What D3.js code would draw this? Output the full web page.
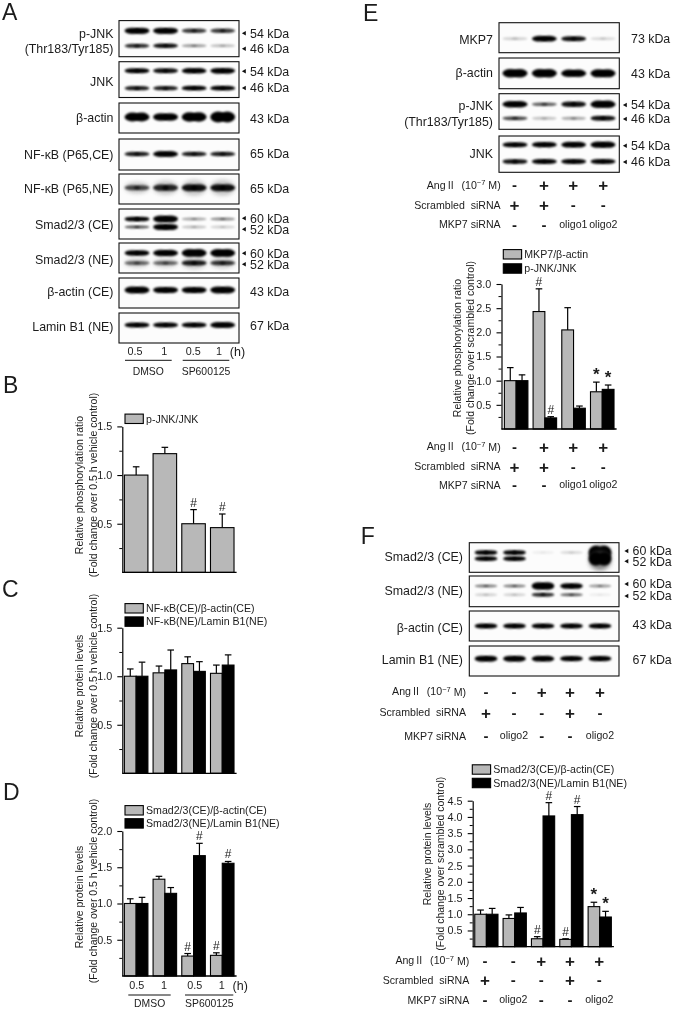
<!DOCTYPE html>
<html>
<head>
<meta charset="utf-8">
<script src="https://cdn.jsdelivr.net/npm/d3@7"></script>
<style>
  html, body { margin: 0; padding: 0; background: #fff; }
  svg { display: block; filter: blur(0.25px); }
  text { font-family: "Liberation Sans", Arial, sans-serif; fill: #1c1c1c; white-space: pre; }
</style>
</head>
<body>
<div id="figure"></div>
<script>
// blot band strengths, read by eye (1 = a full dark band)
const lanesA = ["DMSO 0.5", "DMSO 1", "SP 0.5", "SP 1"];
const aPjnk54 = [1, 1, 0.7, 0.7];
const aPjnk46 = [0.75, 0.85, 0.35, 0.22];
const aJnk54 = [0.9, 0.85, 0.95, 1];
const aJnk46 = [0.8, 0.8, 0.9, 0.9];
const aActin = [1.3, 1.1, 1.4, 1.6];
const aP65Ce = [0.8, 1.05, 0.8, 0.8];
const aP65Ne = [0.6, 0.75, 0.85, 0.85];
const aSmadCe60 = [0.9, 1.3, 0.3, 0.4];
const aSmadCe52 = [0.6, 1.2, 0.2, 0.15];
const aSmadNe60 = [0.95, 1.05, 1.35, 1.35];
const aSmadNe52 = [0.5, 0.5, 0.8, 0.7];
const aActinCe = [1.15, 1, 1, 1.1];
const aLamin = [0.9, 0.9, 0.9, 1.05];

const lanesE = ["1", "2", "3", "4"];
const eMkp7 = [0.15, 1, 0.85, 0.12];
const eActin = [1.25, 1.25, 1.1, 1.2];
const ePjnk54 = [1, 0.55, 0.85, 1.15];
const ePjnk46 = [0.65, 0.2, 0.3, 0.85];
const eJnk54 = [0.9, 0.95, 1, 1.1];
const eJnk46 = [0.85, 0.9, 0.9, 0.9];

const lanesF = ["1", "2", "3", "4", "5"];
const fSmadCe60 = [0.9, 0.9, 0.05, 0.12, 2.6];
const fSmadCe52 = [0.9, 0.9, 0, 0, 2.6];
const fSmadNe60 = [0.45, 0.45, 1.3, 1, 0.35];
const fSmadNe52 = [0.15, 0.15, 0.75, 0.55, 0.05];
const fActin = [0.95, 0.95, 0.95, 1, 1];
const fLamin = [1.1, 1.1, 1.05, 0.95, 0.95];

// bar values and upper error ends
const bLegend = ["p-JNK/JNK"];
const bVals = [1.0, 1.22, 0.5, 0.46];
const bErrs = [1.085, 1.285, 0.645, 0.6];
const bSig = ["", "", "#", "#"];

const cLegend = ["NF-κB(CE)/β-actin(CE)", "NF-κB(NE)/Lamin B1(NE)"];
const cGray = [1.0, 1.035, 1.13, 1.03];
const cGrayErrs = [1.075, 1.105, 1.2, 1.115];
const cBlack = [1.0, 1.065, 1.05, 1.115];
const cBlackErrs = [1.145, 1.27, 1.15, 1.22];

const dLegend = ["Smad2/3(CE)/β-actin(CE)", "Smad2/3(NE)/Lamin B1(NE)"];
const dGray = [1.0, 1.335, 0.275, 0.285];
const dGrayErrs = [1.065, 1.375, 0.31, 0.32];
const dGraySig = ["", "", "#", "#"];
const dBlack = [1.0, 1.14, 1.66, 1.555];
const dBlackErrs = [1.085, 1.22, 1.83, 1.58];
const dBlackSig = ["", "", "#", "#"];

const eLegend = ["MKP7/β-actin", "p-JNK/JNK"];
const eGray = [1.0, 2.43, 2.05, 0.77];
const eGrayErrs = [1.27, 2.9, 2.51, 0.97];
const eGraySig = ["", "#", "", "*"];
const eBlack = [1.0, 0.23, 0.43, 0.82];
const eBlackErrs = [1.12, 0.255, 0.475, 0.91];
const eBlackSig = ["", "#", "", "*"];

const fLegend = ["Smad2/3(CE)/β-actin(CE)", "Smad2/3(NE)/Lamin B1(NE)"];
const fGray = [1.0, 0.87, 0.245, 0.225, 1.235];
const fGrayErrs = [1.13, 0.98, 0.31, 0.245, 1.37];
const fGraySig = ["", "", "#", "#", "*"];
const fBlack = [1.0, 1.04, 4.03, 4.07, 0.915];
const fBlackErrs = [1.18, 1.21, 4.44, 4.32, 1.09];
const fBlackSig = ["", "", "#", "#", "*"];

// treatment rows
const eAng = ["-", "+", "+", "+"];
const eScr = ["+", "+", "-", "-"];
const eMkp = ["-", "-", "oligo1", "oligo2"];
const fAng = ["-", "-", "+", "+", "+"];
const fScr = ["+", "-", "-", "+", "-"];
const fMkp = ["-", "oligo2", "-", "-", "oligo2"];

const hours = ["0.5", "1", "0.5", "1"];
const yTitlePhos = "Relative phosphorylation ratio";
const yTitleProt = "Relative protein levels";
const yTitleVeh = "(Fold change over 0.5 h vehicle control)";
const yTitleScr = "(Fold change over scrambled control)";

const svg = d3.select("#figure").append("svg")
    .attr("width", 675)
    .attr("height", 1010);

const defs = svg.append("defs");
defs.append("filter").attr("id", "soft")
    .attr("x", "-30%").attr("y", "-100%").attr("width", "160%").attr("height", "300%")
    .append("feGaussianBlur").attr("stdDeviation", 0.85);
defs.append("filter").attr("id", "haze")
    .attr("x", "-50%").attr("y", "-150%").attr("width", "200%").attr("height", "400%")
    .append("feGaussianBlur").attr("stdDeviation", 2.2);

function label(x, y, str, size, anchor) {
    return svg.append("text")
        .attr("x", x)
        .attr("y", y)
        .attr("dy", "0.35em")
        .attr("font-size", size)
        .attr("text-anchor", anchor || "start")
        .text(str);
}

function panelLetter(x, y, str) {
    svg.append("text").attr("x", x).attr("y", y).attr("font-size", 23).text(str);
}

function drawBlot(b, opt) {
    const lane = d3.scalePoint().domain(opt.lanes).range(opt.laneRange);
    svg.append("rect")
        .attr("x", opt.x0).attr("y", b.top)
        .attr("width", opt.x1 - opt.x0).attr("height", b.bottom - b.top)
        .attr("fill", "#fcfcfc").attr("stroke", "#111").attr("stroke-width", 1.1);

    const g = svg.append("g");
    b.bands.forEach(band => {
        band.values.forEach((v, i) => {
            if (v <= 0) return;
            const cx = lane(opt.lanes[i]);
            const ry = band.thick * 1.3 * Math.max(0.55, v);
            const op = Math.min(1, v * 1.1);
            if (band.haze || v > 2) {
                g.append("ellipse")
                    .attr("cx", cx).attr("cy", band.y + (v > 2 ? 2 : 0))
                    .attr("rx", opt.bandW * 0.52).attr("ry", ry * (v > 2 ? 1.4 : 2.2))
                    .attr("fill", "#555").attr("opacity", band.haze || 0.7)
                    .attr("filter", "url(#haze)");
            }
            // each band is two overlapping lobes, like the comb marks on a gel
            [-0.2, 0.2].forEach(dx => {
                g.append("ellipse")
                    .attr("cx", cx + dx * opt.bandW).attr("cy", band.y)
                    .attr("rx", opt.bandW * 0.34).attr("ry", ry)
                    .attr("fill", "#050505").attr("opacity", op)
                    .attr("filter", "url(#soft)");
            });
        });
    });

    b.label.forEach((t, i) => label(opt.labelX, b.labelY[i], t, opt.font, "end"));
    b.kda.forEach(k => {
        label(opt.kdaX, k.y, k.text, opt.font);
        if (k.arrow) {
            svg.append("path")
                .attr("d", d3.symbol().type(d3.symbolTriangle).size(9)())
                .attr("transform", `translate(${opt.kdaX - 5.5},${k.y}) rotate(-90)`)
                .attr("fill", "#111");
        }
    });
}

function barChart(c) {
    const g = svg.append("g");
    const y = d3.scaleLinear().domain([0, c.max]).range([c.base, c.top]);
    const cats = d3.range(c.series[0].vals.length);
    const x = d3.scaleBand().domain(cats).range([c.x0, c.x1]).paddingInner(0.18).paddingOuter(0.09);
    const inner = d3.scaleBand().domain(d3.range(c.series.length)).range([0, x.bandwidth()]);

    c.series.forEach((s, si) => {
        const sg = g.append("g");
        sg.selectAll("line.err").data(cats).enter().append("line")
            .attr("x1", d => x(d) + inner(si) + inner.bandwidth() / 2)
            .attr("x2", d => x(d) + inner(si) + inner.bandwidth() / 2)
            .attr("y1", d => y(s.vals[d]))
            .attr("y2", d => y(s.errs[d]))
            .attr("stroke", "#000").attr("stroke-width", 1.2);
        sg.selectAll("line.cap").data(cats).enter().append("line")
            .attr("x1", d => x(d) + inner(si) + inner.bandwidth() / 2 - 3.3)
            .attr("x2", d => x(d) + inner(si) + inner.bandwidth() / 2 + 3.3)
            .attr("y1", d => y(s.errs[d]))
            .attr("y2", d => y(s.errs[d]))
            .attr("stroke", "#000").attr("stroke-width", 1.2);
        sg.selectAll("rect").data(cats).enter().append("rect")
            .attr("x", d => x(d) + inner(si))
            .attr("y", d => y(s.vals[d]))
            .attr("width", inner.bandwidth())
            .attr("height", d => y(0) - y(s.vals[d]))
            .attr("fill", s.fill)
            .attr("stroke", "#000")
            .attr("stroke-width", 1.1);
        if (s.sig) {
            sg.selectAll("text").data(cats.filter(d => s.sig[d])).enter().append("text")
                .attr("x", d => x(d) + inner(si) + inner.bandwidth() / 2)
                .attr("y", d => y(s.errs[d]) - (s.sig[d] === "*" ? 2 : 3))
                .attr("text-anchor", "middle")
                .attr("font-size", d => s.sig[d] === "*" ? 17 : 12)
                .attr("font-weight", d => s.sig[d] === "*" ? "bold" : "normal")
                .text(d => s.sig[d]);
        }
    });

    const major = d3.axisLeft(y).tickValues(c.majors).tickSize(5).tickSizeOuter(0)
        .tickFormat(d3.format(".1f"));
    const minor = d3.axisLeft(y).tickValues(c.minors).tickSize(3).tickSizeOuter(0).tickFormat("");
    const ax = g.append("g").attr("transform", `translate(${c.axisX},0)`).call(major);
    ax.selectAll("text").attr("font-size", 10.8).attr("dx", "-0.2em")
        .style("font-family", '"Liberation Sans", Arial, sans-serif').style("fill", "#1c1c1c");
    ax.selectAll("line").attr("stroke-width", 1.1);
    ax.select(".domain").attr("stroke-width", 1.2);
    const mx = g.append("g").attr("transform", `translate(${c.axisX},0)`).call(minor);
    mx.select(".domain").remove();
    mx.selectAll("line").attr("stroke-width", 1);
    g.append("line")
        .attr("x1", c.axisX).attr("x2", c.x1)
        .attr("y1", y(0)).attr("y2", y(0))
        .attr("stroke", "#000").attr("stroke-width", 1.3);

    c.titles.forEach(t => {
        svg.append("text")
            .attr("transform", `translate(${t.x},${t.y}) rotate(-90)`)
            .attr("text-anchor", "middle")
            .attr("dy", "0.35em")
            .attr("font-size", 10.5)
            .text(t.text);
    });

    c.legend.texts.forEach((t, i) => {
        const ly = c.legend.ys[i];
        svg.append("rect")
            .attr("x", c.legend.x).attr("y", ly - 4.7)
            .attr("width", 18.3).attr("height", 9.4)
            .attr("fill", c.series[i].fill).attr("stroke", "#000").attr("stroke-width", 1.1);
        label(c.legend.x + 21, ly, t, 10.6);
    });
}

function treatmentRows(rows, xs, labelX) {
    rows.forEach(r => {
        const t = label(labelX, r.y, "", 10.6, "end");
        if (r.ang) {
            t.append("tspan").text("Ang");
            t.append("tspan").style("font-family", '"Noto Sans CJK SC"').attr("font-size", 10).text("Ⅱ");
            t.append("tspan").text("  (10");
            t.append("tspan").attr("font-size", 7.5).attr("dy", "-0.5em").text("−7");
            t.append("tspan").attr("dy", "0.4em").text(" M)");
        } else {
            t.text(r.name);
        }
        r.values.forEach((v, i) => {
            const sign = v === "+" || v === "-";
            svg.append("text")
                .attr("x", xs[i]).attr("y", r.y)
                .attr("dy", sign ? "0.35em" : "0.3em")
                .attr("text-anchor", "middle")
                .attr("font-size", v === "+" ? 17 : (sign ? 15 : 10.6))
                .attr("font-weight", sign ? "bold" : "normal")
                .text(v);
        });
    });
}

// panel A
panelLetter(2, 20, "A");
const optA = { lanes: lanesA, laneRange: [137, 222.7], x0: 119, x1: 239, bandW: 23, labelX: 113.5, kdaX: 250, font: 12.4 };
[
    { top: 20.6, bottom: 56.7, label: ["p-JNK", "(Thr183/Tyr185)"], labelY: [33.5, 48.7],
      bands: [{ y: 30.8, thick: 2.4, values: aPjnk54 }, { y: 45.8, thick: 2, values: aPjnk46 }],
      kda: [{ text: "54 kDa", y: 33.3, arrow: true }, { text: "46 kDa", y: 48.7, arrow: true }] },
    { top: 61.7, bottom: 97.5, label: ["JNK"], labelY: [81.7],
      bands: [{ y: 70.8, thick: 2.2, values: aJnk54 }, { y: 88.2, thick: 2, values: aJnk46 }],
      kda: [{ text: "54 kDa", y: 71.3, arrow: true }, { text: "46 kDa", y: 88, arrow: true }] },
    { top: 103, bottom: 133, label: ["β-actin"], labelY: [118],
      bands: [{ y: 117, thick: 2.6, values: aActin }],
      kda: [{ text: "43 kDa", y: 119 }] },
    { top: 139, bottom: 170, label: ["NF-κB (P65,CE)"], labelY: [155],
      bands: [{ y: 154, thick: 2.2, values: aP65Ce }],
      kda: [{ text: "65 kDa", y: 154 }] },
    { top: 174, bottom: 204, label: ["NF-κB (P65,NE)"], labelY: [189],
      bands: [{ y: 187.7, thick: 3.2, values: aP65Ne, haze: 0.35 }],
      kda: [{ text: "65 kDa", y: 188.3 }] },
    { top: 209, bottom: 239, label: ["Smad2/3 (CE)"], labelY: [225],
      bands: [{ y: 219, thick: 2, values: aSmadCe60 }, { y: 227, thick: 2, values: aSmadCe52 }],
      kda: [{ text: "60 kDa", y: 218.3, arrow: true }, { text: "52 kDa", y: 229.3, arrow: true }] },
    { top: 243, bottom: 273, label: ["Smad2/3 (NE)"], labelY: [259.3],
      bands: [{ y: 253, thick: 2.3, values: aSmadNe60 }, { y: 263, thick: 2.5, values: aSmadNe52, haze: 0.35 }],
      kda: [{ text: "60 kDa", y: 253.3, arrow: true }, { text: "52 kDa", y: 264.3, arrow: true }] },
    { top: 278, bottom: 308, label: ["β-actin (CE)"], labelY: [292],
      bands: [{ y: 290, thick: 2.4, values: aActinCe }],
      kda: [{ text: "43 kDa", y: 292 }] },
    { top: 313, bottom: 343, label: ["Lamin B1 (NE)"], labelY: [326.7],
      bands: [{ y: 325, thick: 2.2, values: aLamin }],
      kda: [{ text: "67 kDa", y: 326 }] }
].forEach(b => drawBlot(b, optA));

function hourLabels(ys, xs, lineY, groupDy, groups) {
    hours.forEach((h, i) => label(xs[i], ys, h, 10.8, "middle"));
    label(xs[3] + 18.5, ys - 0.5, "(h)", 12.5, "middle");
    groups.forEach(gr => {
        svg.append("line").attr("x1", gr.x0).attr("x2", gr.x1)
            .attr("y1", lineY).attr("y2", lineY)
            .attr("stroke", "#111").attr("stroke-width", 1);
        label(gr.cx, lineY + groupDy, gr.text, 10.4, "middle");
    });
}
hourLabels(351.7, [135, 164.3, 193.3, 219], 360.3, 11.2, [
    { x0: 125, x1: 171.7, cx: 148.3, text: "DMSO" },
    { x0: 182.7, x1: 229.3, cx: 206, text: "SP600125" }
]);

// panel B
panelLetter(3, 393, "B");
barChart({
    x0: 121.8, x1: 236.6, axisX: 122.3, base: 572.4, top: 426.4, max: 1.5,
    majors: [0.5, 1, 1.5], minors: [0.25, 0.75, 1.25],
    series: [{ vals: bVals, errs: bErrs, sig: bSig, fill: "#b8b8b8" }],
    titles: [{ x: 79, y: 485, text: yTitlePhos }, { x: 93, y: 485, text: yTitleVeh }],
    legend: { x: 125, ys: [418.8], texts: bLegend }
});

// panel C
panelLetter(2, 597, "C");
barChart({
    x0: 121.8, x1: 236.6, axisX: 122.3, base: 773.3, top: 627.7, max: 1.5,
    majors: [0.5, 1, 1.5], minors: [0.25, 0.75, 1.25],
    series: [
        { vals: cGray, errs: cGrayErrs, fill: "#b8b8b8" },
        { vals: cBlack, errs: cBlackErrs, fill: "#000" }
    ],
    titles: [{ x: 79, y: 686, text: yTitleProt }, { x: 93, y: 686, text: yTitleVeh }],
    legend: { x: 125, ys: [608.3, 621.6], texts: cLegend }
});

// panel D
panelLetter(3, 800, "D");
barChart({
    x0: 121.8, x1: 236.6, axisX: 122.3, base: 976, top: 831, max: 2,
    majors: [0.5, 1, 1.5, 2], minors: [0.25, 0.75, 1.25, 1.75],
    series: [
        { vals: dGray, errs: dGrayErrs, sig: dGraySig, fill: "#b8b8b8" },
        { vals: dBlack, errs: dBlackErrs, sig: dBlackSig, fill: "#000" }
    ],
    titles: [{ x: 79, y: 897, text: yTitleProt }, { x: 93, y: 891, text: yTitleVeh }],
    legend: { x: 125, ys: [810.3, 823.4], texts: dLegend }
});
hourLabels(985.7, [136.7, 164, 194.7, 221.7], 995, 8.4, [
    { x0: 128.3, x1: 170.7, cx: 149.7, text: "DMSO" },
    { x0: 185, x1: 233.3, cx: 209.3, text: "SP600125" }
]);

// panel E
panelLetter(363, 20.7, "E");
const optE = { lanes: lanesE, laneRange: [515, 603], x0: 499, x1: 619.3, bandW: 23, labelX: 493, kdaX: 631, font: 12.4 };
[
    { top: 22.7, bottom: 52.7, label: ["MKP7"], labelY: [40],
      bands: [{ y: 38.7, thick: 2.2, values: eMkp7 }],
      kda: [{ text: "73 kDa", y: 39 }] },
    { top: 58, bottom: 88.7, label: ["β-actin"], labelY: [73],
      bands: [{ y: 73.3, thick: 2.6, values: eActin }],
      kda: [{ text: "43 kDa", y: 73.7 }] },
    { top: 93.7, bottom: 129.3, label: ["p-JNK", "(Thr183/Tyr185)"], labelY: [106, 121.3],
      bands: [{ y: 104.3, thick: 2.5, values: ePjnk54 }, { y: 118.3, thick: 2.2, values: ePjnk46 }],
      kda: [{ text: "54 kDa", y: 105, arrow: true }, { text: "46 kDa", y: 119, arrow: true }] },
    { top: 136, bottom: 172.3, label: ["JNK"], labelY: [154],
      bands: [{ y: 144.7, thick: 2.2, values: eJnk54 }, { y: 161.5, thick: 2.1, values: eJnk46 }],
      kda: [{ text: "54 kDa", y: 145.7, arrow: true }, { text: "46 kDa", y: 162, arrow: true }] }
].forEach(b => drawBlot(b, optE));

const eSignX = [514.5, 544, 573.3, 603.3];
treatmentRows([
    { ang: true, y: 185, values: eAng },
    { name: "Scrambled  siRNA", y: 205, values: eScr },
    { name: "MKP7 siRNA", y: 224.5, values: eMkp }
], eSignX, 500.7);

barChart({
    x0: 501.8, x1: 616.6, axisX: 501.5, base: 429, top: 284, max: 3,
    majors: [0.5, 1, 1.5, 2, 2.5, 3], minors: [0.25, 0.75, 1.25, 1.75, 2.25, 2.75],
    series: [
        { vals: eGray, errs: eGrayErrs, sig: eGraySig, fill: "#b8b8b8" },
        { vals: eBlack, errs: eBlackErrs, sig: eBlackSig, fill: "#000" }
    ],
    titles: [{ x: 457.7, y: 348, text: yTitlePhos }, { x: 470.5, y: 348, text: yTitleScr }],
    legend: { x: 503.3, ys: [254.3, 268.5], texts: eLegend }
});
treatmentRows([
    { ang: true, y: 446.7, values: eAng },
    { name: "Scrambled  siRNA", y: 466.7, values: eScr },
    { name: "MKP7 siRNA", y: 485, values: eMkp }
], eSignX, 500.7);

// panel F
panelLetter(360.7, 544, "F");
const optF = { lanes: lanesF, laneRange: [486, 600], x0: 469.3, x1: 619, bandW: 21, labelX: 463, kdaX: 632.5, font: 12.4 };
[
    { top: 542.7, bottom: 572.3, label: ["Smad2/3 (CE)"], labelY: [557],
      bands: [{ y: 552.5, thick: 2, values: fSmadCe60 }, { y: 558.7, thick: 2, values: fSmadCe52 }],
      kda: [{ text: "60 kDa", y: 551, arrow: true }, { text: "52 kDa", y: 561.3, arrow: true }] },
    { top: 576, bottom: 606.7, label: ["Smad2/3 (NE)"], labelY: [590.5],
      bands: [{ y: 586, thick: 2.2, values: fSmadNe60 }, { y: 594.7, thick: 2, values: fSmadNe52 }],
      kda: [{ text: "60 kDa", y: 584, arrow: true }, { text: "52 kDa", y: 596, arrow: true }] },
    { top: 611, bottom: 641, label: ["β-actin (CE)"], labelY: [627.5],
      bands: [{ y: 626, thick: 2, values: fActin }],
      kda: [{ text: "43 kDa", y: 625 }] },
    { top: 646, bottom: 676, label: ["Lamin B1 (NE)"], labelY: [659.5],
      bands: [{ y: 658.7, thick: 2.1, values: fLamin }],
      kda: [{ text: "67 kDa", y: 659.5 }] }
].forEach(b => drawBlot(b, optF));

const fSignX = [486, 514, 541.7, 570, 600];
treatmentRows([
    { ang: true, y: 691.7, values: fAng },
    { name: "Scrambled  siRNA", y: 712.7, values: fScr },
    { name: "MKP7 siRNA", y: 736, values: fMkp }
], fSignX, 466);

barChart({
    x0: 472.2, x1: 613.9, axisX: 472.7, base: 946.7, top: 800.7, max: 4.5,
    majors: [0.5, 1, 1.5, 2, 2.5, 3, 3.5, 4, 4.5], minors: [0.25, 0.75, 1.25, 1.75, 2.25, 2.75, 3.25, 3.75, 4.25],
    series: [
        { vals: fGray, errs: fGrayErrs, sig: fGraySig, fill: "#b8b8b8" },
        { vals: fBlack, errs: fBlackErrs, sig: fBlackSig, fill: "#000" }
    ],
    titles: [{ x: 427, y: 854, text: yTitleProt }, { x: 440, y: 863.7, text: yTitleScr }],
    legend: { x: 472.3, ys: [769.5, 783], texts: fLegend }
});
treatmentRows([
    { ang: true, y: 960.7, values: fAng },
    { name: "Scrambled  siRNA", y: 980, values: fScr },
    { name: "MKP7 siRNA", y: 1000, values: fMkp }
], [485, 513.3, 541.3, 570, 599.3], 469.3);
</script>
</body>
</html>
